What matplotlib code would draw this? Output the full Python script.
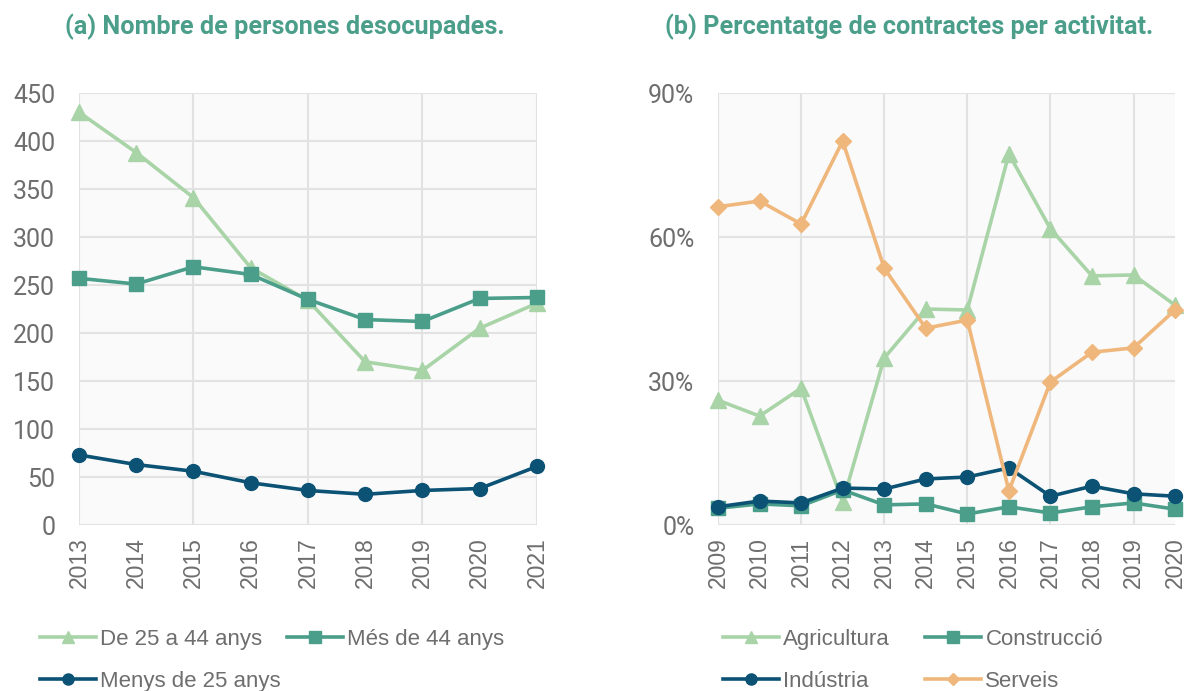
import matplotlib
matplotlib.use("Agg")
import matplotlib.pyplot as plt
from matplotlib.ticker import FuncFormatter

plt.rcParams['font.family'] = ['Roboto', 'DejaVu Sans']

# ---------- data ----------
years_a = [2013, 2014, 2015, 2016, 2017, 2018, 2019, 2020, 2021]
de25a44 = [430, 388, 341, 268, 234, 170, 161, 205, 231]
mes44 = [257, 251, 269, 261, 235, 214, 212, 236, 237]
menys25 = [73, 63, 56, 44, 36, 32, 36, 38, 61]

years_b = [2009, 2010, 2011, 2012, 2013, 2014, 2015, 2016, 2017, 2018, 2019, 2020]
agricultura = [26.0, 22.7, 28.5, 4.8, 34.8, 45.0, 44.8, 77.3, 61.7, 51.9, 52.1, 45.8]
construccio = [3.5, 4.4, 4.0, 7.3, 4.2, 4.4, 2.3, 3.8, 2.5, 3.8, 4.6, 3.3]
industria = [3.8, 5.0, 4.6, 7.7, 7.5, 9.6, 10.0, 11.9, 6.0, 8.1, 6.5, 6.0]
serveis = [66.3, 67.5, 62.7, 80.0, 53.5, 41.0, 42.7, 7.1, 29.8, 36.0, 36.9, 44.8]

title_a = "(a) Nombre de persones desocupades."
title_b = "(b) Percentatge de contractes per activitat."

# ---------- style ----------
C_LIGHT = '#a9d4a7'
C_TEAL = '#4a9e8a'
C_DARK = '#0b5275'
C_ORANGE = '#efb77c'
GRID = '#e2e2e2'
TXT = '#6e6e6e'
BG = '#fafafa'
LW = 2.6
XFONT = ['Liberation Sans', 'DejaVu Sans']

fig = plt.figure(figsize=(11.89, 6.91), dpi=100)
ax1 = fig.add_axes([0.0664, 0.2402, 0.3852, 0.6252])
ax2 = fig.add_axes([0.6039, 0.2402, 0.3844, 0.6252])

for ax in (ax1, ax2):
    ax.set_facecolor(BG)
    for s in ax.spines.values():
        s.set_visible(False)
    ax.tick_params(axis='y', length=0, labelsize=18, colors=TXT, pad=17)
    ax.tick_params(axis='x', length=0, labelsize=16.5, colors=TXT, pad=9, labelrotation=90)

# left panel
ax1.set_xlim(2013, 2021)
ax1.set_ylim(0, 450)
ax1.set_yticks(range(0, 451, 50))
ax1.set_xticks(years_a)
ax1.set_xticklabels([str(y) for y in years_a], family=XFONT)
for y in range(0, 451, 50):
    ax1.axhline(y, color=GRID, lw=1.5, zorder=0)
for x in years_a[::2]:
    ax1.axvline(x, color=GRID, lw=1.5, zorder=0)

l1, = ax1.plot(years_a, de25a44, color=C_LIGHT, lw=LW, marker='^', ms=11, clip_on=False, zorder=3)
l2, = ax1.plot(years_a, mes44, color=C_TEAL, lw=LW, marker='s', ms=10, clip_on=False, zorder=4)
l3, = ax1.plot(years_a, menys25, color=C_DARK, lw=LW, marker='o', ms=10, clip_on=False, zorder=5)

# right panel
ax2.set_xlim(2009, 2020)
ax2.set_ylim(0, 90)
ax2.set_yticks([0, 30, 60, 90])
ax2.yaxis.set_major_formatter(FuncFormatter(lambda v, p: f"{int(v)}%"))
ax2.set_xticks(years_b)
ax2.set_xticklabels([str(y) for y in years_b], family=XFONT)
for y in [0, 30, 60, 90]:
    ax2.axhline(y, color=GRID, lw=1.5, zorder=0)
for x in years_b[::2]:
    ax2.axvline(x, color=GRID, lw=1.5, zorder=0)

m1, = ax2.plot(years_b, agricultura, color=C_LIGHT, lw=LW, marker='^', ms=11, clip_on=False, zorder=3)
m2, = ax2.plot(years_b, construccio, color=C_TEAL, lw=LW, marker='s', ms=10, clip_on=False, zorder=4)
m3, = ax2.plot(years_b, industria, color=C_DARK, lw=LW, marker='o', ms=10, clip_on=False, zorder=5)
m4, = ax2.plot(years_b, serveis, color=C_ORANGE, lw=LW, marker='D', ms=8, clip_on=False, zorder=6)

# titles
fig.text(0.2397, 0.961, title_a, ha='center', va='center', fontsize=18.2, fontweight='bold', color=C_TEAL)
fig.text(0.7645, 0.961, title_b, ha='center', va='center', fontsize=18.2, fontweight='bold', color=C_TEAL)

# legends (one per column, placed like the reference)
leg_kw = dict(frameon=False, prop={'family': XFONT, 'size': 16}, labelcolor=TXT, handlelength=2.5,
              handletextpad=0.22, labelspacing=0.94, borderaxespad=0, borderpad=0, loc='upper left')


def add_leg(handles, labels, x_px):
    lg = fig.legend(handles, labels, bbox_to_anchor=(x_px / 1189, 0.0897), **leg_kw)
    for h in lg.legend_handles:
        h.set_markersize(6 if h.get_marker() == 'D' else 8)
    return lg


add_leg([l1, l3], ['De 25 a 44 anys', 'Menys de 25 anys'], 40)
add_leg([l2], ['Més de 44 anys'], 287)
add_leg([m1, m3], ['Agricultura', 'Indústria'], 723)
add_leg([m2, m4], ['Construcció', 'Serveis'], 925)

fig.savefig('out.png', dpi=100)
